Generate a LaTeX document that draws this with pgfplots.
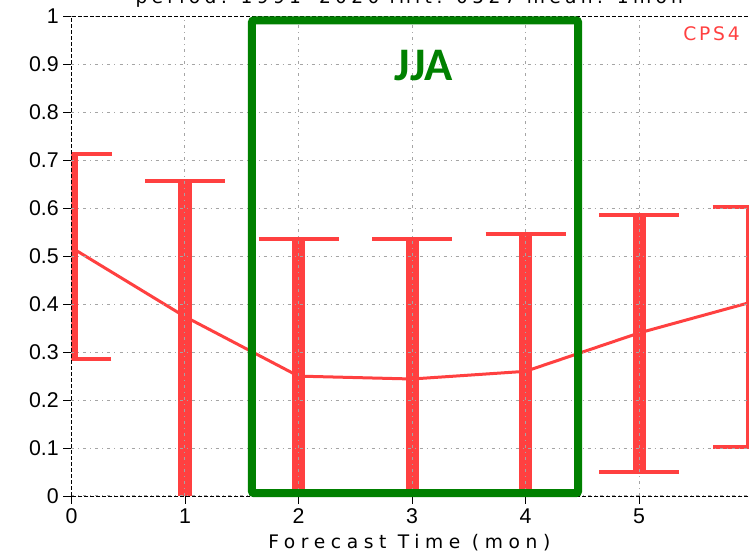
\documentclass[border=0pt]{standalone}
\usepackage{fontspec}
\setmainfont{Liberation Sans}
\newfontfamily\hershey[LetterSpace=30]{DejaVu Sans}
\newfontfamily\hersheytitle[LetterSpace=23]{DejaVu Sans}
\newfontfamily\hersheysmall[LetterSpace=15]{DejaVu Sans}
\newfontfamily\jjafont{Carlito}
\usepackage{pgfplots}
\usepackage{pgfplotstable}
\pgfplotsset{compat=1.18}
\definecolor{cpsred}{RGB}{255,64,64}
\definecolor{jjagreen}{RGB}{0,128,0}
\definecolor{gridgray}{RGB}{165,165,165}

\pgfplotstableread{
x y ep em
0 0.518 0.195 0.233
1 0.374 0.284 0.424
2 0.250 0.287 0.300
3 0.244 0.291 0.294
4 0.260 0.287 0.310
5 0.340 0.247 0.291
6 0.405 0.197 0.302
}\datatable

\begin{document}
\begin{tikzpicture}
\begin{axis}[
  at={(0,0)}, anchor=south west, scale only axis,
  width=510.75pt, height=359.6pt,
  xmin=0, xmax=6, ymin=0, ymax=1,
  xtick={0,1,2,3,4,5},
  ytick={0,0.1,0.2,0.3,0.4,0.5,0.6,0.7,0.8,0.9,1},
  yticklabels={0,0.1,0.2,0.3,0.4,0.5,0.6,0.7,0.8,0.9,1},
  grid=major,
  grid style={gridgray, line width=0.75pt, dash pattern=on 2.25pt off 3pt on 0.75pt off 3pt},
  axis line style={black, line width=0.6pt, dash pattern=on 3pt off 1.5pt},
  tick style={black, line width=0.6pt, solid},
  tick align=outside, major tick length=6pt,
  tick pos=left,
  tick label style={font=\fontsize{16}{16}\selectfont},
  /pgf/number format/assume math mode=true,
  clip mode=individual,
  axis on top,
  xlabel={Forecast Time (mon)},
  xlabel style={font=\hershey\fontsize{14}{14}\selectfont, at={(axis description cs:0.5,0)}, anchor=base, yshift=-39.75pt, xshift=-2pt},
  title={period: 1991–2020 init: 0527 mean: 1mon},
  title style={font=\hersheytitle\fontsize{14}{14}\selectfont, at={(axis description cs:0.5,1)}, anchor=base, yshift=4pt, xshift=-2pt},
]
\addplot[cpsred, line width=2.25pt, mark=none,
  error bars/.cd, y dir=both, y explicit,
  error bar style={line width=9.75pt, draw=cpsred, solid},
  error mark=|,
  error mark options={line width=3pt, mark size=30pt, draw=cpsred, solid}]
  table[x=x, y=y, y error plus=ep, y error minus=em]{\datatable};
\node[anchor=base east, inner sep=0pt, text=cpsred, font=\hersheysmall\fontsize{14}{14}\selectfont] at (axis cs:5.89,0.950) {CPS4};
\coordinate (gA) at (axis cs:1.590,0.006);
\coordinate (gB) at (axis cs:4.463,0.992);
\coordinate (jja) at (axis cs:3.106,0.866);
\end{axis}
\draw[jjagreen, line width=6pt, rounded corners=1.5pt] (gA) rectangle (gB);
\node[anchor=base, inner sep=0pt, text=jjagreen, font=\jjafont\bfseries\fontsize{35}{35}\selectfont] at (jja) {JJA};
\pgfresetboundingbox
\path[use as bounding box] (-53.625pt,-44.25pt) rectangle (508.125pt,372pt);
\end{tikzpicture}
\end{document}
